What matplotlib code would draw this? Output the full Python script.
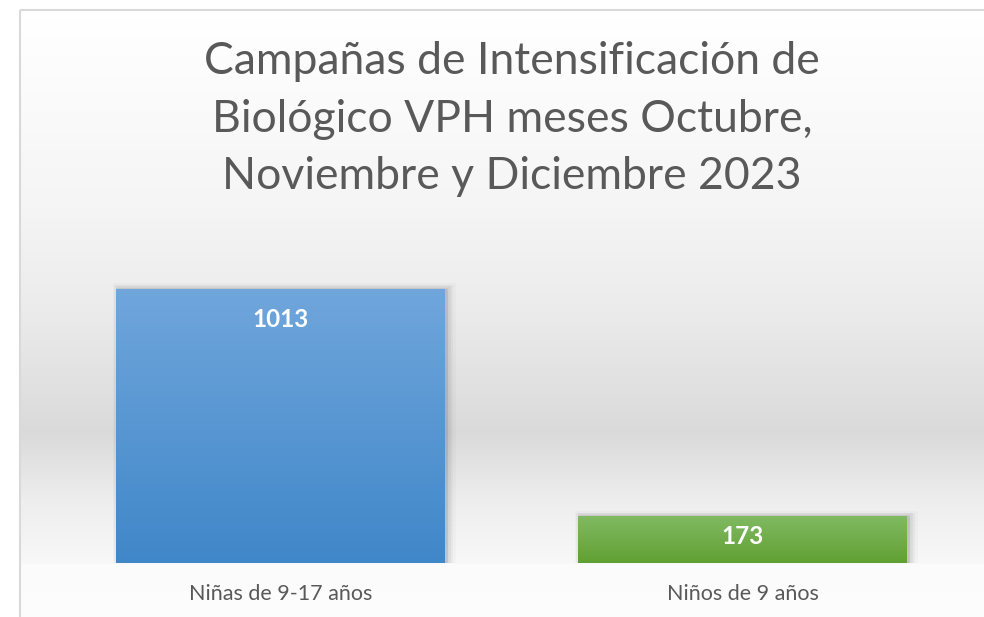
import numpy as np
import matplotlib
matplotlib.use("Agg")
import matplotlib.pyplot as plt
from matplotlib.patches import Rectangle
from matplotlib.colors import LinearSegmentedColormap
import matplotlib.patheffects as pe

# ---- data ----
categories = ["Niñas de 9-17 años", "Niños de 9 años"]
values = [1013, 173]
title_text = "Campañas de Intensificación de\nBiológico VPH meses Octubre,\nNoviembre y Diciembre 2023"

# ---- style ----
bar_top_colors = ["#70A6DC", "#81BA62"]
bar_bottom_colors = ["#4087C9", "#60A032"]
label_offsets_px = [-31, -20]
text_grey = "#595959"
FONT = ["Lato", "DejaVu Sans"]

W, H = 984, 617
fig = plt.figure(figsize=(W / 100, H / 100), dpi=100)
fig.patch.set_facecolor("white")

# background gradient of the chart area
bg = fig.add_axes([0, 0, 1, 1], zorder=0)
bg.set_xlim(0, W)
bg.set_ylim(H, 0)
bg.axis("off")
ys = np.arange(H)
stops_y = [0, 10, 200, 300, 430, 500, 562, 563, 617]
stops_v = [255, 255, 245, 236, 218, 238, 248, 251, 253]
col = np.interp(ys, stops_y, stops_v) / 255.0
grad = np.repeat(col[:, None], 2, axis=1)
bg.imshow(np.dstack([grad, grad, grad]), extent=[19.5, W + 30, H, 9.5],
          aspect="auto", zorder=0, interpolation="bilinear")
bg.add_patch(Rectangle((19.5, 9.5), W + 30, H + 30, fill=False,
                       edgecolor="#D9D9D9", linewidth=1.5, zorder=1))

# title
fig.text(512 / W, 1 - 119 / H, title_text, ha="center", va="center",
         fontsize=32, color=text_grey, family=FONT, linespacing=1.5)

# plot area
ax_left, ax_right = 49.5, 973.5
ax_bottom, ax_top = 563, 238
ax = fig.add_axes([ax_left / W, 1 - ax_bottom / H, (ax_right - ax_left) / W,
                   (ax_bottom - ax_top) / H], zorder=2)
ax.patch.set_alpha(0)
x = np.arange(len(categories))
bars = ax.bar(x, values, width=0.712, color=bar_top_colors, zorder=3)
ax.set_xlim(-0.5, len(categories) - 0.5)
ax.set_ylim(0, 1200)

for i, b in enumerate(bars):
    b.set_path_effects([
        pe.Stroke(linewidth=10, foreground="black", alpha=0.02, offset=(3, -1)),
        pe.Stroke(linewidth=7, foreground="black", alpha=0.035, offset=(2, -1)),
        pe.Stroke(linewidth=4, foreground="black", alpha=0.05, offset=(2, 0)),
        pe.Stroke(linewidth=2, foreground="black", alpha=0.07, offset=(1, 0)),
        pe.Normal(),
    ])
    b.set_edgecolor("none")
    x0, w_ = b.get_x(), b.get_width()
    h = b.get_height()
    cmap = LinearSegmentedColormap.from_list(
        "g%d" % i, [bar_bottom_colors[i], bar_top_colors[i]])
    g = np.linspace(0, 1, 256)[:, None]
    im = ax.imshow(g, cmap=cmap, extent=[x0, x0 + w_, 0, h], origin="lower",
                   aspect="auto", zorder=4, interpolation="bilinear")
    im.set_clip_path(b)
    ax.annotate(str(values[i]), (b.get_x() + w_ / 2, h),
                xytext=(0, label_offsets_px[i]), textcoords="offset pixels",
                ha="center", va="center", fontsize=17.5, fontweight="bold",
                color="white", family=FONT, zorder=5)

ax.set_xlim(-0.5, len(categories) - 0.5)
ax.set_ylim(0, 1200)
ax.set_xticks(x)
ax.set_xticklabels(categories, fontsize=15.5, color=text_grey, family=FONT)
ax.tick_params(axis="x", length=0, pad=15)
ax.set_yticks([])
for s in ax.spines.values():
    s.set_visible(False)

fig.savefig("out.png", dpi=100)
